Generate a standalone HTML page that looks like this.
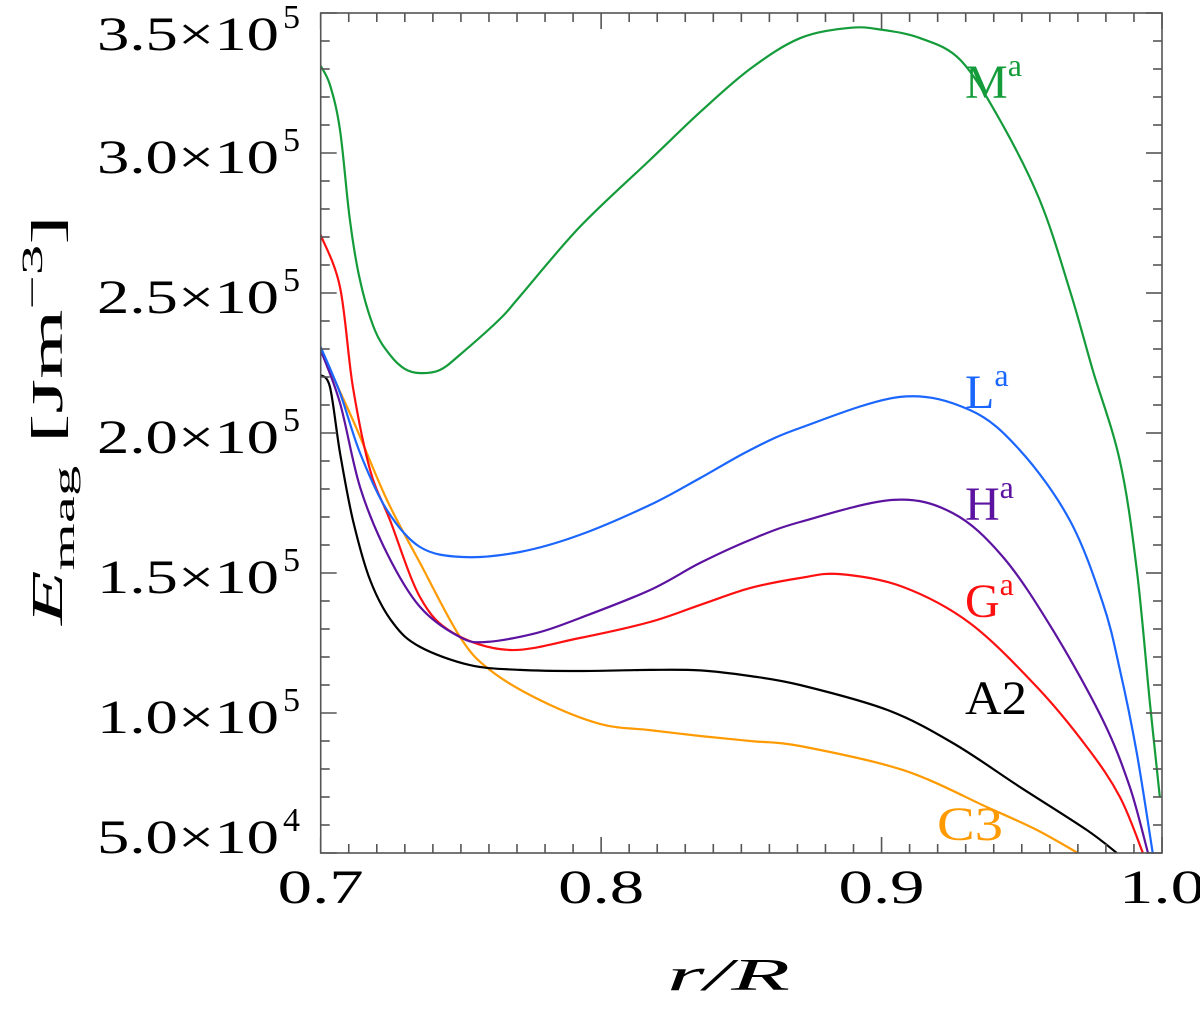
<!DOCTYPE html>
<html><head><meta charset="utf-8"><style>
html,body{margin:0;padding:0;background:#fff;}
svg{display:block;font-family:"Liberation Serif",serif;}
</style></head><body>
<svg id="chart" width="1200" height="1013" viewBox="0 0 1200 1013" xmlns="http://www.w3.org/2000/svg">
<defs><clipPath id="pc"><rect x="320.7" y="13" width="841.3" height="840"/></clipPath></defs>
<g id="curves" clip-path="url(#pc)"></g>
<rect x="320.7" y="13" width="841.3" height="840" fill="none" stroke="#555" stroke-width="1.6"/>
<g id="ticks"></g>
<text x="667" y="990" font-size="46" font-style="italic" textLength="123" lengthAdjust="spacingAndGlyphs">r/R</text>
<text transform="translate(62,625) rotate(-90)" font-size="44" textLength="410" lengthAdjust="spacingAndGlyphs"><tspan font-style="italic">E</tspan><tspan font-size="30" dy="12">mag</tspan><tspan dy="-12"> [Jm</tspan><tspan font-size="30" dy="-20">−3</tspan><tspan dy="20">]</tspan></text>
<g font-size="48">
<text x="965" y="98" fill="#149b3a">M<tspan font-size="32" dy="-22">a</tspan></text>
<text x="965" y="408" fill="#1a66ff">L<tspan font-size="32" dy="-22">a</tspan></text>
<text x="965" y="520" fill="#5c13a0">H<tspan font-size="32" dy="-22">a</tspan></text>
<text x="965" y="617" fill="#ff1010">G<tspan font-size="32" dy="-22">a</tspan></text>
<text x="965" y="714" fill="#000" textLength="62" lengthAdjust="spacingAndGlyphs">A2</text>
<text x="937" y="840" fill="#ff9a00" textLength="66" lengthAdjust="spacingAndGlyphs">C3</text>
</g>
</svg>
<script>
const xTickLabels=["0.7","0.8","0.9","1.0"];
const xTickVals=[0.7,0.8,0.9,1.0];
const yTickVals=[0.5,1.0,1.5,2.0,2.5,3.0,3.5];
const yTickMant=["5.0","1.0","1.5","2.0","2.5","3.0","3.5"];
const yTickExp=["4","5","5","5","5","5","5"];

const rM=[0.700,0.7033,0.7069,0.7104,0.714,0.7193,0.7247,0.73,0.7354,0.7425,0.7497,0.7639,0.7711,0.7924,0.8174,0.8353,0.8531,0.8709,0.8888,0.9002,0.9138,0.9281,0.9422,0.9564,0.9671,0.9753,0.985,0.991,0.9957,0.9992];
const eM=[3.311,3.243,3.082,2.761,2.546,2.368,2.279,2.229,2.214,2.225,2.28,2.407,2.489,2.736,2.975,3.146,3.30,3.41,3.447,3.44,3.41,3.332,3.118,2.832,2.511,2.225,1.90,1.511,1.036,0.700];
const rL=[0.700,0.7069,0.714,0.7236,0.7354,0.7507,0.771,0.7924,0.8174,0.8353,0.8531,0.8709,0.9066,0.9315,0.9493,0.9671,0.9789,0.985,0.991,0.9967];
const eL=[2.307,2.143,1.929,1.725,1.593,1.557,1.575,1.636,1.743,1.839,1.939,2.018,2.129,2.082,1.939,1.689,1.393,1.154,0.857,0.5];
const rH=[0.700,0.7069,0.714,0.7236,0.7354,0.7497,0.7593,0.7771,0.7924,0.8174,0.8353,0.8531,0.8709,0.9041,0.9254,0.9433,0.9611,0.9789,0.9885,0.995];
const eH=[2.296,2.107,1.807,1.571,1.379,1.271,1.254,1.286,1.339,1.439,1.536,1.618,1.682,1.761,1.714,1.557,1.296,0.975,0.736,0.5];
const rG=[0.700,0.7069,0.7115,0.7176,0.7247,0.7354,0.7472,0.7675,0.7924,0.8174,0.8353,0.8531,0.8709,0.8852,0.9077,0.9315,0.9554,0.9732,0.985,0.9932];
const eG=[2.707,2.521,2.164,1.868,1.689,1.414,1.286,1.225,1.268,1.325,1.386,1.446,1.482,1.496,1.45,1.321,1.093,0.879,0.7,0.5];
const rA=[0.700,0.7033,0.7069,0.7115,0.7176,0.7258,0.7354,0.7532,0.771,0.7924,0.8174,0.8353,0.8531,0.8709,0.902,0.9254,0.9493,0.9732,0.9839];
const eA=[2.207,2.164,1.929,1.689,1.475,1.321,1.236,1.171,1.154,1.15,1.154,1.152,1.132,1.10,1.011,0.893,0.736,0.582,0.5];
const rC=[0.700,0.7115,0.7236,0.7354,0.7497,0.7603,0.7782,0.7996,0.8174,0.8353,0.8531,0.8709,0.9077,0.9376,0.9554,0.970];
const eC=[2.296,2.046,1.761,1.536,1.271,1.154,1.046,0.961,0.939,0.918,0.9,0.882,0.796,0.664,0.582,0.5];

const X0=320.7,X1=1162,Y0=853,Y1=13;
function xs(v){return X0+(v-0.7)/0.3*(X1-X0);}
function ys(v){return Y0-(v-0.5)/3.0*(Y0-Y1);}
const NS="http://www.w3.org/2000/svg";
function pathFrom(r,e){
  const p=r.map((v,i)=>[xs(v),ys(e[i])]);
  let d="M"+p[0][0].toFixed(1)+","+p[0][1].toFixed(1);
  for(let i=0;i<p.length-1;i++){
    const a=p[Math.max(0,i-1)],b=p[i],c=p[i+1],n=p[Math.min(p.length-1,i+2)];
    const c1=[b[0]+(c[0]-a[0])/6,b[1]+(c[1]-a[1])/6],c2=[c[0]-(n[0]-b[0])/6,c[1]-(n[1]-b[1])/6];
    d+=" C"+c1[0].toFixed(1)+","+c1[1].toFixed(1)+" "+c2[0].toFixed(1)+","+c2[1].toFixed(1)+" "+c[0].toFixed(1)+","+c[1].toFixed(1);
  }
  return d;
}
const g=document.getElementById("curves");
function addSeries(r,e,col,name){
  const el=document.createElementNS(NS,"path");
  el.setAttribute("d",pathFrom(r,e));
  el.setAttribute("fill","none");el.setAttribute("stroke",col);el.setAttribute("stroke-width","2.2");
  
  
  g.appendChild(el);
}
addSeries(rC,eC,"#ff9a00","line-c3");
addSeries(rA,eA,"#000000","line-a2");
addSeries(rG,eG,"#ff1010","line-ga");
addSeries(rH,eH,"#5c13a0","line-ha");
addSeries(rL,eL,"#1a66ff","line-la");
addSeries(rM,eM,"#149b3a","line-ma");

const t=document.getElementById("ticks");
function line(x1,y1,x2,y2){const l=document.createElementNS(NS,"line");l.setAttribute("x1",x1);l.setAttribute("y1",y1);l.setAttribute("x2",x2);l.setAttribute("y2",y2);l.setAttribute("stroke","#555");l.setAttribute("stroke-width","1.6");
  
  
  t.appendChild(l);}
for(let i=0;i<=30;i++){const x=xs(0.7+i*0.01);const L=(i%10===0)?16:9;line(x,Y0,x,Y0-L);line(x,Y1,x,Y1+L);}
for(let i=0;i<=30;i++){const y=ys(0.5+i*0.1);const L=(i%5===0)?16:9;line(X0,y,X0+L,y);line(X1,y,X1-L,y);}
xTickVals.forEach((v,i)=>{const tx=document.createElementNS(NS,"text");tx.setAttribute("x",xs(v)-43);tx.setAttribute("y",903);tx.setAttribute("font-size","48");tx.setAttribute("textLength","86");tx.setAttribute("lengthAdjust","spacingAndGlyphs");tx.textContent=xTickLabels[i];
  
  
  t.appendChild(tx);});
yTickVals.forEach((v,i)=>{
  const base=Math.min(853,Math.max(50,ys(v)+20));
  const tx=document.createElementNS(NS,"text");tx.setAttribute("x",97);tx.setAttribute("y",base);tx.setAttribute("font-size","48");tx.setAttribute("textLength","182");tx.setAttribute("lengthAdjust","spacingAndGlyphs");
  tx.textContent=yTickMant[i]+"×10";
  
  
  t.appendChild(tx);
  const sp=document.createElementNS(NS,"text");sp.setAttribute("x",283);sp.setAttribute("y",base-22);sp.setAttribute("font-size","34");sp.textContent=yTickExp[i];
  
  
  t.appendChild(sp);
});
</script>
</body></html>
